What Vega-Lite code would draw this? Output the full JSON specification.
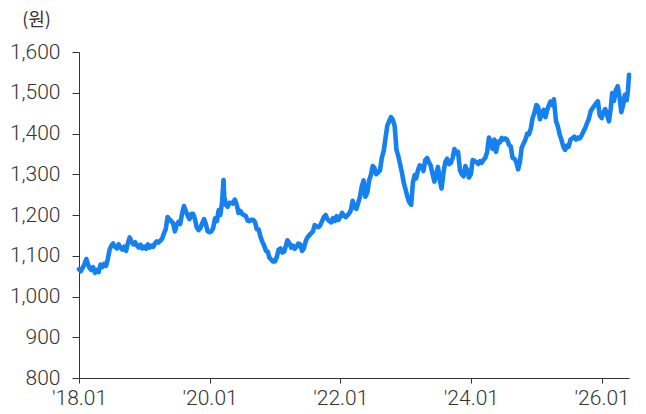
{
  "$schema": "https://vega.github.io/schema/vega-lite/v6.json",
  "width": 550,
  "height": 326,
  "autosize": "none",
  "padding": {"left": 79, "top": 52, "right": 17, "bottom": 36},
  "background": "white",
  "config": {
    "view": {"stroke": null},
    "axis": {
      "labelFont": "Roboto",
      "labelFontWeight": 300,
      "labelFontSize": 21,
      "labelColor": "#333333",
      "domainColor": "#333333",
      "tickColor": "#333333",
      "domainWidth": 1,
      "tickWidth": 1,
      "grid": false
    }
  },
  "data": {
    "values": [
      {"date": "2018-01-01", "krw": 1067}, {"date": "2018-01-11", "krw": 1062}, {"date": "2018-01-21", "krw": 1070},
      {"date": "2018-02-01", "krw": 1080}, {"date": "2018-02-11", "krw": 1092}, {"date": "2018-02-21", "krw": 1078},
      {"date": "2018-03-01", "krw": 1070}, {"date": "2018-03-11", "krw": 1065}, {"date": "2018-03-21", "krw": 1072},
      {"date": "2018-04-01", "krw": 1058}, {"date": "2018-04-11", "krw": 1065}, {"date": "2018-04-21", "krw": 1060},
      {"date": "2018-05-01", "krw": 1078}, {"date": "2018-05-11", "krw": 1072}, {"date": "2018-05-21", "krw": 1080},
      {"date": "2018-06-01", "krw": 1075}, {"date": "2018-06-11", "krw": 1092}, {"date": "2018-06-21", "krw": 1115},
      {"date": "2018-07-01", "krw": 1125}, {"date": "2018-07-11", "krw": 1130}, {"date": "2018-07-21", "krw": 1122},
      {"date": "2018-08-01", "krw": 1118}, {"date": "2018-08-11", "krw": 1128}, {"date": "2018-08-21", "krw": 1120},
      {"date": "2018-09-01", "krw": 1115}, {"date": "2018-09-11", "krw": 1122}, {"date": "2018-09-21", "krw": 1112},
      {"date": "2018-10-01", "krw": 1130}, {"date": "2018-10-11", "krw": 1145}, {"date": "2018-10-21", "krw": 1135},
      {"date": "2018-11-01", "krw": 1128}, {"date": "2018-11-11", "krw": 1133}, {"date": "2018-11-21", "krw": 1125},
      {"date": "2018-12-01", "krw": 1120}, {"date": "2018-12-11", "krw": 1127}, {"date": "2018-12-21", "krw": 1118},
      {"date": "2019-01-01", "krw": 1122}, {"date": "2019-01-11", "krw": 1117}, {"date": "2019-01-21", "krw": 1128},
      {"date": "2019-02-01", "krw": 1120}, {"date": "2019-02-11", "krw": 1125}, {"date": "2019-02-21", "krw": 1122},
      {"date": "2019-03-01", "krw": 1130}, {"date": "2019-03-11", "krw": 1135}, {"date": "2019-03-21", "krw": 1132},
      {"date": "2019-04-01", "krw": 1137}, {"date": "2019-04-11", "krw": 1142}, {"date": "2019-04-21", "krw": 1155},
      {"date": "2019-05-01", "krw": 1165}, {"date": "2019-05-11", "krw": 1195}, {"date": "2019-05-21", "krw": 1190},
      {"date": "2019-06-01", "krw": 1185}, {"date": "2019-06-11", "krw": 1180}, {"date": "2019-06-21", "krw": 1160},
      {"date": "2019-07-01", "krw": 1175}, {"date": "2019-07-11", "krw": 1183}, {"date": "2019-07-21", "krw": 1178},
      {"date": "2019-08-01", "krw": 1205}, {"date": "2019-08-11", "krw": 1222}, {"date": "2019-08-21", "krw": 1210},
      {"date": "2019-09-01", "krw": 1198}, {"date": "2019-09-11", "krw": 1190}, {"date": "2019-09-21", "krw": 1203},
      {"date": "2019-10-01", "krw": 1203}, {"date": "2019-10-11", "krw": 1190}, {"date": "2019-10-21", "krw": 1170},
      {"date": "2019-11-01", "krw": 1163}, {"date": "2019-11-11", "krw": 1168}, {"date": "2019-11-21", "krw": 1180},
      {"date": "2019-12-01", "krw": 1190}, {"date": "2019-12-11", "krw": 1178}, {"date": "2019-12-21", "krw": 1160},
      {"date": "2020-01-01", "krw": 1158}, {"date": "2020-01-11", "krw": 1160}, {"date": "2020-01-21", "krw": 1168},
      {"date": "2020-02-01", "krw": 1192}, {"date": "2020-02-11", "krw": 1185}, {"date": "2020-02-21", "krw": 1212},
      {"date": "2020-03-01", "krw": 1200}, {"date": "2020-03-11", "krw": 1232}, {"date": "2020-03-19", "krw": 1286},
      {"date": "2020-03-23", "krw": 1245},
      {"date": "2020-04-01", "krw": 1225}, {"date": "2020-04-11", "krw": 1220}, {"date": "2020-04-21", "krw": 1230},
      {"date": "2020-05-01", "krw": 1230}, {"date": "2020-05-11", "krw": 1228}, {"date": "2020-05-21", "krw": 1238},
      {"date": "2020-06-01", "krw": 1225}, {"date": "2020-06-11", "krw": 1205}, {"date": "2020-06-21", "krw": 1210},
      {"date": "2020-07-01", "krw": 1203}, {"date": "2020-07-11", "krw": 1200}, {"date": "2020-07-21", "krw": 1198},
      {"date": "2020-08-01", "krw": 1186}, {"date": "2020-08-11", "krw": 1185}, {"date": "2020-08-21", "krw": 1188},
      {"date": "2020-09-01", "krw": 1188}, {"date": "2020-09-11", "krw": 1183}, {"date": "2020-09-21", "krw": 1165},
      {"date": "2020-10-01", "krw": 1165}, {"date": "2020-10-11", "krw": 1148}, {"date": "2020-10-21", "krw": 1135},
      {"date": "2020-11-01", "krw": 1125}, {"date": "2020-11-11", "krw": 1112}, {"date": "2020-11-21", "krw": 1110},
      {"date": "2020-12-01", "krw": 1095}, {"date": "2020-12-11", "krw": 1090}, {"date": "2020-12-21", "krw": 1086},
      {"date": "2021-01-01", "krw": 1086}, {"date": "2021-01-11", "krw": 1097}, {"date": "2021-01-21", "krw": 1115},
      {"date": "2021-02-01", "krw": 1118}, {"date": "2021-02-11", "krw": 1108}, {"date": "2021-02-21", "krw": 1110},
      {"date": "2021-03-01", "krw": 1122}, {"date": "2021-03-11", "krw": 1138}, {"date": "2021-03-21", "krw": 1132},
      {"date": "2021-04-01", "krw": 1120}, {"date": "2021-04-11", "krw": 1125}, {"date": "2021-04-21", "krw": 1117},
      {"date": "2021-05-01", "krw": 1122}, {"date": "2021-05-11", "krw": 1130}, {"date": "2021-05-21", "krw": 1128},
      {"date": "2021-06-01", "krw": 1112}, {"date": "2021-06-11", "krw": 1118}, {"date": "2021-06-21", "krw": 1135},
      {"date": "2021-07-01", "krw": 1145}, {"date": "2021-07-11", "krw": 1150}, {"date": "2021-07-21", "krw": 1155},
      {"date": "2021-08-01", "krw": 1160}, {"date": "2021-08-11", "krw": 1175}, {"date": "2021-08-21", "krw": 1172},
      {"date": "2021-09-01", "krw": 1170}, {"date": "2021-09-11", "krw": 1175}, {"date": "2021-09-21", "krw": 1185},
      {"date": "2021-10-01", "krw": 1195}, {"date": "2021-10-11", "krw": 1200}, {"date": "2021-10-21", "krw": 1190},
      {"date": "2021-11-01", "krw": 1185}, {"date": "2021-11-11", "krw": 1182}, {"date": "2021-11-21", "krw": 1192},
      {"date": "2021-12-01", "krw": 1185}, {"date": "2021-12-11", "krw": 1197}, {"date": "2021-12-21", "krw": 1188},
      {"date": "2022-01-01", "krw": 1195}, {"date": "2022-01-11", "krw": 1205}, {"date": "2022-01-21", "krw": 1198},
      {"date": "2022-02-01", "krw": 1195}, {"date": "2022-02-11", "krw": 1200}, {"date": "2022-02-21", "krw": 1205},
      {"date": "2022-03-01", "krw": 1212}, {"date": "2022-03-11", "krw": 1235}, {"date": "2022-03-21", "krw": 1218},
      {"date": "2022-04-01", "krw": 1215}, {"date": "2022-04-11", "krw": 1230}, {"date": "2022-04-21", "krw": 1245},
      {"date": "2022-05-01", "krw": 1270}, {"date": "2022-05-11", "krw": 1285}, {"date": "2022-05-21", "krw": 1245},
      {"date": "2022-06-01", "krw": 1255}, {"date": "2022-06-11", "krw": 1285}, {"date": "2022-06-21", "krw": 1298},
      {"date": "2022-07-01", "krw": 1320}, {"date": "2022-07-11", "krw": 1315}, {"date": "2022-07-21", "krw": 1300},
      {"date": "2022-08-01", "krw": 1305}, {"date": "2022-08-11", "krw": 1310}, {"date": "2022-08-21", "krw": 1340},
      {"date": "2022-09-01", "krw": 1358}, {"date": "2022-09-11", "krw": 1390}, {"date": "2022-09-21", "krw": 1420},
      {"date": "2022-10-01", "krw": 1430}, {"date": "2022-10-11", "krw": 1440}, {"date": "2022-10-21", "krw": 1434},
      {"date": "2022-11-01", "krw": 1418}, {"date": "2022-11-11", "krw": 1360}, {"date": "2022-11-21", "krw": 1345},
      {"date": "2022-12-01", "krw": 1325}, {"date": "2022-12-11", "krw": 1305}, {"date": "2022-12-21", "krw": 1280},
      {"date": "2023-01-01", "krw": 1262}, {"date": "2023-01-11", "krw": 1245}, {"date": "2023-01-21", "krw": 1232},
      {"date": "2023-02-01", "krw": 1225}, {"date": "2023-02-11", "krw": 1280}, {"date": "2023-02-21", "krw": 1298},
      {"date": "2023-03-01", "krw": 1290}, {"date": "2023-03-11", "krw": 1310}, {"date": "2023-03-21", "krw": 1322},
      {"date": "2023-04-01", "krw": 1318}, {"date": "2023-04-11", "krw": 1308}, {"date": "2023-04-21", "krw": 1335},
      {"date": "2023-05-01", "krw": 1340}, {"date": "2023-05-11", "krw": 1330}, {"date": "2023-05-21", "krw": 1322},
      {"date": "2023-06-01", "krw": 1300}, {"date": "2023-06-11", "krw": 1282}, {"date": "2023-06-21", "krw": 1300},
      {"date": "2023-07-01", "krw": 1318}, {"date": "2023-07-11", "krw": 1285}, {"date": "2023-07-21", "krw": 1265},
      {"date": "2023-08-01", "krw": 1305}, {"date": "2023-08-11", "krw": 1330}, {"date": "2023-08-21", "krw": 1338},
      {"date": "2023-09-01", "krw": 1325}, {"date": "2023-09-11", "krw": 1328}, {"date": "2023-09-21", "krw": 1340},
      {"date": "2023-10-01", "krw": 1362}, {"date": "2023-10-11", "krw": 1352}, {"date": "2023-10-21", "krw": 1355},
      {"date": "2023-11-01", "krw": 1310}, {"date": "2023-11-11", "krw": 1300}, {"date": "2023-11-21", "krw": 1295},
      {"date": "2023-12-01", "krw": 1320}, {"date": "2023-12-11", "krw": 1310}, {"date": "2023-12-21", "krw": 1292},
      {"date": "2024-01-01", "krw": 1300}, {"date": "2024-01-11", "krw": 1335}, {"date": "2024-01-21", "krw": 1332},
      {"date": "2024-02-01", "krw": 1330}, {"date": "2024-02-11", "krw": 1325}, {"date": "2024-02-21", "krw": 1332},
      {"date": "2024-03-01", "krw": 1328}, {"date": "2024-03-11", "krw": 1335}, {"date": "2024-03-21", "krw": 1340},
      {"date": "2024-04-01", "krw": 1355}, {"date": "2024-04-11", "krw": 1390}, {"date": "2024-04-21", "krw": 1378},
      {"date": "2024-05-01", "krw": 1362}, {"date": "2024-05-11", "krw": 1385}, {"date": "2024-05-21", "krw": 1355},
      {"date": "2024-06-01", "krw": 1380}, {"date": "2024-06-11", "krw": 1378}, {"date": "2024-06-21", "krw": 1389},
      {"date": "2024-07-01", "krw": 1385}, {"date": "2024-07-11", "krw": 1388}, {"date": "2024-07-21", "krw": 1385},
      {"date": "2024-08-01", "krw": 1372}, {"date": "2024-08-11", "krw": 1368}, {"date": "2024-08-21", "krw": 1340},
      {"date": "2024-09-01", "krw": 1338}, {"date": "2024-09-11", "krw": 1330}, {"date": "2024-09-21", "krw": 1312},
      {"date": "2024-10-01", "krw": 1330}, {"date": "2024-10-11", "krw": 1365}, {"date": "2024-10-21", "krw": 1375},
      {"date": "2024-11-01", "krw": 1385}, {"date": "2024-11-11", "krw": 1400}, {"date": "2024-11-21", "krw": 1398},
      {"date": "2024-12-01", "krw": 1412}, {"date": "2024-12-11", "krw": 1438}, {"date": "2024-12-21", "krw": 1450},
      {"date": "2025-01-01", "krw": 1470}, {"date": "2025-01-11", "krw": 1465}, {"date": "2025-01-21", "krw": 1435},
      {"date": "2025-02-01", "krw": 1450}, {"date": "2025-02-11", "krw": 1458}, {"date": "2025-02-21", "krw": 1440},
      {"date": "2025-03-01", "krw": 1455}, {"date": "2025-03-11", "krw": 1468}, {"date": "2025-03-21", "krw": 1478},
      {"date": "2025-04-01", "krw": 1470}, {"date": "2025-04-09", "krw": 1484}, {"date": "2025-04-21", "krw": 1430},
      {"date": "2025-05-01", "krw": 1418}, {"date": "2025-05-11", "krw": 1398}, {"date": "2025-05-21", "krw": 1385},
      {"date": "2025-06-01", "krw": 1368}, {"date": "2025-06-11", "krw": 1360}, {"date": "2025-06-21", "krw": 1370},
      {"date": "2025-07-01", "krw": 1368}, {"date": "2025-07-11", "krw": 1385}, {"date": "2025-07-21", "krw": 1388},
      {"date": "2025-08-01", "krw": 1392}, {"date": "2025-08-11", "krw": 1385}, {"date": "2025-08-21", "krw": 1390},
      {"date": "2025-09-01", "krw": 1388}, {"date": "2025-09-11", "krw": 1395}, {"date": "2025-09-21", "krw": 1405},
      {"date": "2025-10-01", "krw": 1413}, {"date": "2025-10-11", "krw": 1425}, {"date": "2025-10-21", "krw": 1435},
      {"date": "2025-11-01", "krw": 1455}, {"date": "2025-11-11", "krw": 1462}, {"date": "2025-11-21", "krw": 1468},
      {"date": "2025-12-01", "krw": 1474}, {"date": "2025-12-11", "krw": 1479}, {"date": "2025-12-21", "krw": 1445},
      {"date": "2026-01-01", "krw": 1438}, {"date": "2026-01-11", "krw": 1452}, {"date": "2026-01-21", "krw": 1460},
      {"date": "2026-02-01", "krw": 1445}, {"date": "2026-02-11", "krw": 1430}, {"date": "2026-02-21", "krw": 1462},
      {"date": "2026-03-01", "krw": 1499}, {"date": "2026-03-11", "krw": 1480}, {"date": "2026-03-21", "krw": 1506},
      {"date": "2026-04-01", "krw": 1516}, {"date": "2026-04-11", "krw": 1490}, {"date": "2026-04-21", "krw": 1452},
      {"date": "2026-05-01", "krw": 1470}, {"date": "2026-05-11", "krw": 1495}, {"date": "2026-05-21", "krw": 1482},
      {"date": "2026-05-28", "krw": 1505}, {"date": "2026-06-03", "krw": 1544}
    ]
  },
  "mark": {"type": "line", "color": "#1580f0", "strokeWidth": 4.6, "strokeJoin": "round", "strokeCap": "round", "clip": false},
  "encoding": {
    "x": {
      "field": "date",
      "type": "temporal",
      "scale": {
        "type": "utc",
        "domain": [
          {"year": 2018, "month": 1, "date": 1, "utc": true},
          {"year": 2026, "month": 6, "date": 3, "utc": true}
        ]
      },
      "axis": {
        "title": null,
        "format": "'%y.%m",
        "values": [
          {"year": 2018, "month": 1, "date": 1, "utc": true},
          {"year": 2020, "month": 1, "date": 1, "utc": true},
          {"year": 2022, "month": 1, "date": 1, "utc": true},
          {"year": 2024, "month": 1, "date": 1, "utc": true},
          {"year": 2026, "month": 1, "date": 1, "utc": true}
        ],
        "tickSize": 5,
        "labelPadding": 4,
        "labelFlush": false,
        "labelOverlap": false
      }
    },
    "y": {
      "field": "krw",
      "type": "quantitative",
      "scale": {"domain": [800, 1600], "nice": false, "zero": false},
      "axis": {
        "values": [800, 900, 1000, 1100, 1200, 1300, 1400, 1500, 1600],
        "format": ",d",
        "tickSize": 7,
        "labelPadding": 12,
        "labelFlush": false,
        "labelOverlap": false,
        "title": "(원)",
        "titleAngle": 0,
        "titleFont": "Noto Sans CJK KR",
        "titleFontWeight": "normal",
        "titleFontSize": 18,
        "titleColor": "#333333",
        "titleAlign": "center",
        "titleBaseline": "middle",
        "titleX": -43,
        "titleY": -32
      }
    }
  }
}
